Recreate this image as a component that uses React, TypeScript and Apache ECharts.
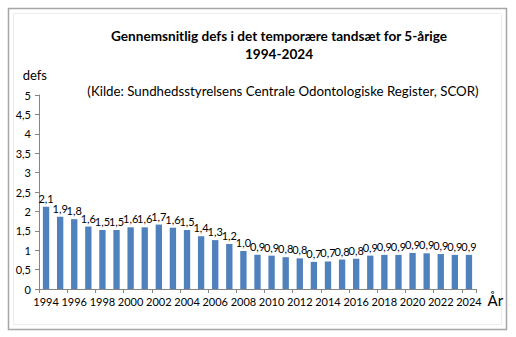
import React, { useEffect, useRef } from "react";
import * as echarts from "echarts";

const years: string[] = [
  "1994","1995","1996","1997","1998","1999","2000","2001","2002","2003",
  "2004","2005","2006","2007","2008","2009","2010","2011","2012","2013",
  "2014","2015","2016","2017","2018","2019","2020","2021","2022","2023","2024",
];
const defsValues: number[] = [
  2.12, 1.86, 1.8, 1.61, 1.52, 1.52, 1.59, 1.59, 1.66, 1.58,
  1.52, 1.36, 1.26, 1.16, 0.98, 0.88, 0.86, 0.82, 0.79, 0.7,
  0.71, 0.76, 0.78, 0.86, 0.88, 0.88, 0.93, 0.92, 0.9, 0.88, 0.88,
];
const titleText = "Gennemsnitlig defs i det temporære tandsæt for 5-årige\n1994-2024";
const subtitleText = "(Kilde: Sundhedsstyrelsens Centrale Odontologiske Register, SCOR)";
const yAxisName = "defs";
const xAxisName = "År";

const fmt = (v: number) => v.toFixed(1).replace(".", ",");
const fmtTick = (v: number) => String(Math.round(v * 10) / 10).replace(".", ",");
const FONT = "Lato, 'Liberation Sans', sans-serif";

export default function App() {
  const ref = useRef<HTMLDivElement>(null);
  useEffect(() => {
    if (!ref.current) return;
    const chart = echarts.init(ref.current, null, { renderer: "svg" });
    chart.setOption({
      animation: false,
      backgroundColor: "#ffffff",
      textStyle: { fontFamily: FONT },
      title: [
        {
          text: titleText,
          left: 274,
          top: 22,
          textAlign: "center",
          textStyle: { fontSize: 13.6, fontWeight: "bold", color: "#000", lineHeight: 18, fontFamily: FONT },
        },
        {
          text: subtitleText,
          left: 278,
          top: 79,
          textAlign: "center",
          textStyle: { fontSize: 13.3, fontWeight: "normal", color: "#000", fontFamily: FONT },
        },
      ],
      graphic: [
        {
          type: "rect",
          shape: { x: 8.5, y: 8.5, width: 498, height: 321 },
          style: { fill: "none", stroke: "#a6a6a6", lineWidth: 1.5 },
          silent: true,
        },
        {
          type: "rect",
          shape: { x: 13.5, y: 13.5, width: 488, height: 311 },
          style: { fill: "none", stroke: "#ececec", lineWidth: 1 },
          silent: true,
        },
      ],
      grid: { left: 39, right: 40, top: 95, bottom: 48, containLabel: false },
      xAxis: {
        type: "category",
        data: years,
        name: xAxisName,
        nameLocation: "end",
        nameGap: 6,
        nameTextStyle: { fontSize: 15, color: "#000", verticalAlign: "top", padding: [3, 0, 0, 0] },
        axisLine: { lineStyle: { color: "#868686" } },
        axisTick: { show: true, interval: 1, length: 4, lineStyle: { color: "#868686" } },
        axisLabel: { interval: 1, fontSize: 11, color: "#000", margin: 7 },
      },
      yAxis: {
        type: "value",
        min: 0,
        max: 5,
        interval: 0.5,
        name: yAxisName,
        nameLocation: "end",
        nameGap: 14,
        nameTextStyle: { fontSize: 13, color: "#000", align: "right", padding: [0, -8, 0, 0] },
        axisLine: { show: true, lineStyle: { color: "#868686" } },
        axisTick: { show: true, length: 4, lineStyle: { color: "#868686" } },
        axisLabel: { fontSize: 11, color: "#000", margin: 8, formatter: (v: number) => fmtTick(v) },
        splitLine: { show: false },
      },
      series: [
        {
          type: "bar",
          data: defsValues,
          barWidth: "45%",
          itemStyle: { color: "#4f81bd" },
          label: {
            show: true,
            position: "top",
            distance: 3,
            fontSize: 11,
            color: "#000",
            formatter: (p: any) => fmt(p.value),
          },
        },
      ],
    });
    return () => chart.dispose();
  }, []);
  return (
    <div
      ref={ref}
      style={{ position: "fixed", left: 0, top: 0, width: 516, height: 337 }}
    />
  );
}
